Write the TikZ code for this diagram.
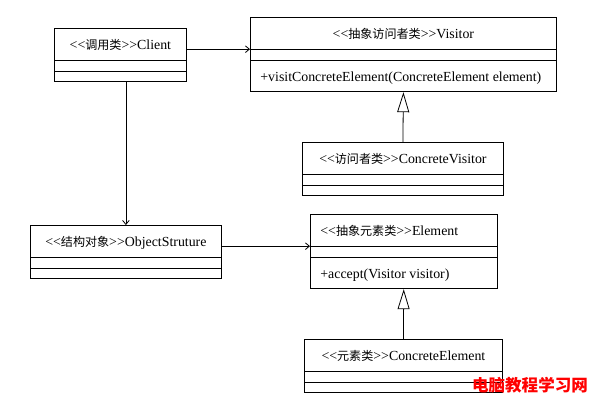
\documentclass[tikz,border=0pt]{standalone}
\usepackage{fontspec}
\setmainfont{Liberation Serif}
\newfontfamily\cjk[Scale=0.87]{Noto Sans CJK SC}
\newfontfamily\wmfont{Noto Sans CJK SC}
\usetikzlibrary{arrows.meta, shapes.multipart}
\newcommand{\tstrut}{\rule[-6.1pt]{0pt}{20.25pt}}
\newcommand{\estrut}{\rule{0pt}{4.5pt}\hphantom{.}}
\newcommand{\stereo}[1]{\textless\kern0pt\textless{\cjk #1}\textgreater\kern0pt\textgreater}

\begin{document}
\begin{tikzpicture}[
    x=0.75pt, y=-0.75pt,
    line width=0.6pt,
    every node/.style={font=\fontsize{10.4}{12}\selectfont},
    umlclass/.style={draw, rectangle split, rectangle split parts=3,
                     rectangle split part align={center,left,left},
                     inner xsep=7.5pt, inner ysep=1.5pt, anchor=north west},
    assoc/.style={-{Straight Barb[length=3pt,width=5pt]}},
    inherit/.style={-{Triangle[open,length=15pt,width=9pt]}},
    wm/.style={text=red, font=\wmfont\bfseries\fontsize{12.4}{14}\selectfont},
]
\useasboundingbox (0,0) rectangle (596,407);
\node[umlclass, minimum width=99pt]  (client)    at (54,28)
    {\tstrut\stereo{调用类}Client\nodepart{second}\estrut\nodepart{third}\estrut};
\node[umlclass, minimum width=229.5pt] (visitor) at (250,17)
    {\tstrut\stereo{抽象访问者类}Visitor\nodepart{second}\estrut
     \nodepart{third}\tstrut+visitConcreteElement(ConcreteElement element)};
\node[umlclass, minimum width=150.75pt] (cvisitor) at (302,142)
    {\tstrut\stereo{访问者类}ConcreteVisitor\nodepart{second}\estrut\nodepart{third}\estrut};
\node[umlclass, minimum width=143.25pt] (objstruct) at (30,225)
    {\tstrut\stereo{结构对象}ObjectStruture\nodepart{second}\estrut\nodepart{third}\estrut};
\node[umlclass, minimum width=140pt, rectangle split part align={left,left,left}] (element) at (310,214)
    {\tstrut\stereo{抽象元素类}Element\nodepart{second}\estrut
     \nodepart{third}\tstrut+accept(Visitor visitor)};
\node[umlclass, minimum width=148.5pt] (celement) at (304,339)
    {\tstrut\stereo{元素类}ConcreteElement\nodepart{second}\estrut\nodepart{third}\estrut};
\node[wm] (mark) at (530,385) {电脑教程学习网};
\draw[assoc] (client.east |- visitor.text split west) -- (visitor.text split west);
\draw[assoc] (client.south -| objstruct.north) -- (objstruct.north);
\draw[assoc] (objstruct.east |- element.text split west) -- (element.text split west);
\draw[inherit] (cvisitor.north) -- (visitor.south);
\draw[inherit] (celement.north) -- (element.south);
\end{tikzpicture}
\end{document}
